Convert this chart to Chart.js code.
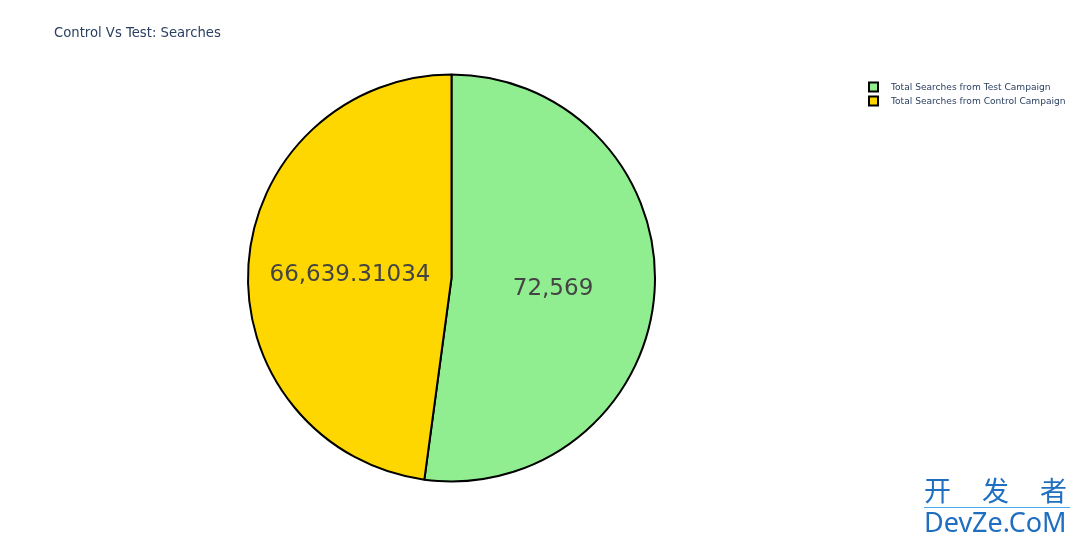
<!DOCTYPE html>
<html>
<head>
<meta charset="utf-8">
<script src="https://cdn.jsdelivr.net/npm/chart.js@4"></script>
<style>
  body { margin: 0; background: #fff; }
  #wrap { position: relative; width: 1080px; height: 543px; }
  #watermark { position: absolute; left: 924px; top: 473px; width: 146px; color: #1f6fc0; }
  #watermark .cn { font-family: "Noto Sans CJK SC", sans-serif; font-size: 27px; letter-spacing: 31px; line-height: 34px; white-space: nowrap; }
  #watermark .en { font-family: "Noto Sans", sans-serif; font-size: 27px; line-height: 28px; border-top: 1px solid #4aa8f0; }
</style>
</head>
<body>
<div id="wrap">
  <canvas id="myChart" width="1080" height="543"></canvas>
  <div id="watermark"><div class="cn">开发者</div><div class="en">DevZe.CoM</div></div>
</div>
<script>
const chartTitle = 'Control Vs Test: Searches';
const labels = ['Total Searches from Test Campaign', 'Total Searches from Control Campaign'];
const values = [72569, 66639.31034];
const colors = ['#90EE90', '#FFD700'];

function formatValue(v) {
    const parts = String(v).split('.');
    parts[0] = parts[0].replace(/\B(?=(\d{3})+(?!\d))/g, ',');
    return parts.join('.');
}

// slice labels, title and legend drawn straight on the canvas
const extras = {
    id: 'extras',
    afterDraw(chart) {
        const ctx = chart.ctx;
        const meta = chart.getDatasetMeta(0);
        ctx.save();
        ctx.fillStyle = '#444';
        ctx.font = '23px "DejaVu Sans", Verdana, sans-serif';
        ctx.textAlign = 'center';
        ctx.textBaseline = 'middle';
        meta.data.forEach((arc, i) => {
            const mid = (arc.startAngle + arc.endAngle) / 2;
            const r = arc.outerRadius * 0.5;
            ctx.fillText(formatValue(values[i]), arc.x + Math.cos(mid) * r, arc.y + Math.sin(mid) * r + 4);
        });

        ctx.fillStyle = '#2a3f5f';
        ctx.textAlign = 'left';
        ctx.font = '13.2px "DejaVu Sans", Verdana, sans-serif';
        ctx.fillText(chartTitle, 54, 34);

        ctx.font = '9.1px "DejaVu Sans", Verdana, sans-serif';
        labels.forEach((lab, i) => {
            const y = 87 + i * 14;
            ctx.fillStyle = colors[i];
            ctx.fillRect(869, y - 4.5, 9, 9);
            ctx.lineWidth = 2;
            ctx.strokeStyle = '#000';
            ctx.strokeRect(869, y - 4.5, 9, 9);
            ctx.fillStyle = '#2a3f5f';
            ctx.fillText(lab, 891, y + 1);
        });
        ctx.restore();
    }
};

const ctx = document.getElementById('myChart').getContext('2d');
window.myChart = new Chart(ctx, {
    type: 'pie',
    data: {
        labels: labels,
        datasets: [{
            data: values,
            backgroundColor: colors,
            borderColor: '#000',
            borderWidth: 2,
            hoverOffset: 0
        }]
    },
    options: {
        responsive: false,
        animation: false,
        layout: { padding: { left: 247, right: 424, top: 73, bottom: 60 } },
        plugins: {
            legend: { display: false },
            tooltip: { enabled: false }
        }
    },
    plugins: [extras]
});
</script>
</body>
</html>
